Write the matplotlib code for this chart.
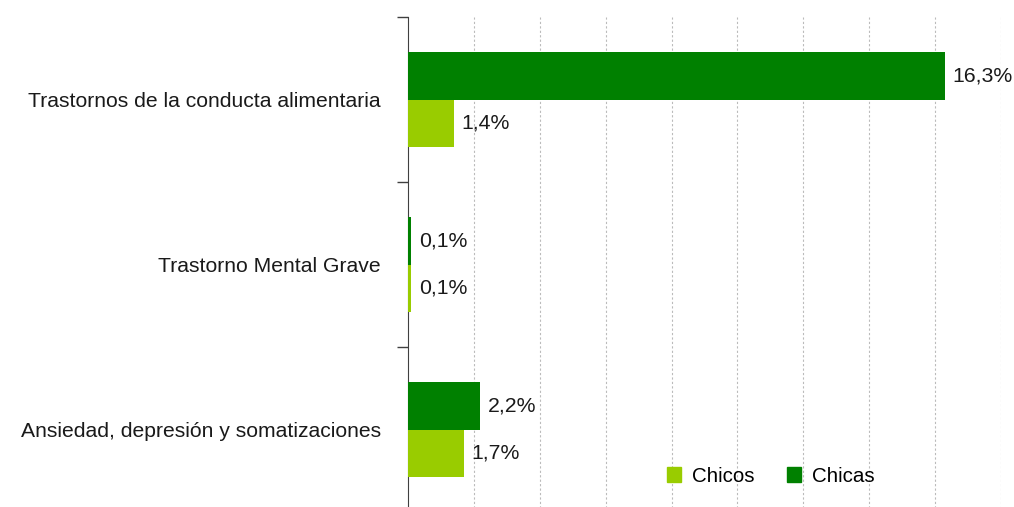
import matplotlib.pyplot as plt
import numpy as np
from matplotlib.patches import Patch

plt.rcParams['font.family'] = ['Liberation Sans', 'DejaVu Sans']

categorias = ["Trastornos de la conducta alimentaria",
              "Trastorno Mental Grave",
              "Ansiedad, depresión y somatizaciones"]
chicas = [16.3, 0.1, 2.2]
chicos = [1.4, 0.1, 1.7]

color_chicas = "#008000"
color_chicos = "#99cc00"

fig = plt.figure(figsize=(10.14, 5.07), dpi=100)
ax = fig.add_axes([408 / 1014, -5 / 507, 593 / 1014, 495 / 507])

y = np.arange(len(categorias))
h = 0.288
b1 = ax.barh(y - h / 2, chicas, height=h, color=color_chicas, zorder=3)
b2 = ax.barh(y + h / 2, chicos, height=h, color=color_chicos, zorder=3)

for bars in (b1, b2):
    ax.bar_label(bars, labels=[f"{b.get_width():.1f}%".replace(".", ",") for b in bars],
                 padding=5.5, fontsize=15.3, color="#1a1a1a")

ax.set_xlim(0, 18)
ax.set_ylim(2.5, -0.5)
ax.set_xticks(np.arange(2, 19, 2))
ax.tick_params(axis="x", length=0, labelbottom=False)
ax.grid(axis="x", color="#bbbbbb", linestyle=(0, (2, 2)), linewidth=0.8, zorder=0)

ax.set_yticks(y)
ax.set_yticklabels(categorias, fontsize=15.2, color="#1a1a1a")
ax.tick_params(axis="y", which="major", length=0, pad=19.5)
ax.set_yticks([-0.5, 0.5, 1.5, 2.5], minor=True)
ax.tick_params(axis="y", which="minor", length=8, width=1, color="#404040")

for s in ["top", "right", "bottom"]:
    ax.spines[s].set_visible(False)
ax.spines["left"].set_color("#404040")

handles = [Patch(color=color_chicos, label="Chicos"), Patch(color=color_chicas, label="Chicas")]
fig.legend(handles=handles, loc="center", bbox_to_anchor=(0.76, 0.061), ncol=2,
           frameon=False, fontsize=14.8, handlelength=0.7, handleheight=0.7,
           handletextpad=0.5, columnspacing=1.6)

fig.savefig("out.png", dpi=100)
